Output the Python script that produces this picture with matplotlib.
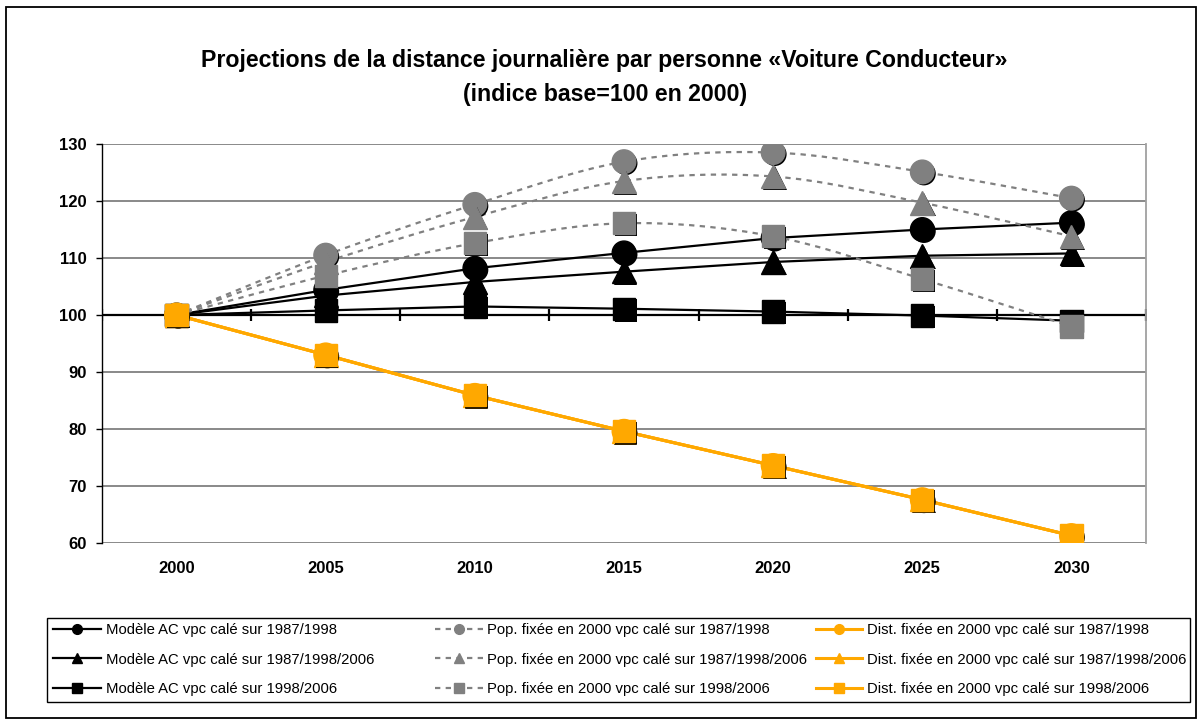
import matplotlib
matplotlib.use('Agg')
import matplotlib.pyplot as plt
import matplotlib.patheffects as pe
from matplotlib.path import Path
from matplotlib.patches import PathPatch, Rectangle
from matplotlib.lines import Line2D
import numpy as np

plt.rcParams['font.family'] = ['Liberation Sans', 'DejaVu Sans']

# Data
years = ['2000', '2005', '2010', '2015', '2020', '2025', '2030']

ac_8798 = [100, 104.4, 108.2, 110.9, 113.5, 115.0, 116.2]
ac_879806 = [100, 103.4, 105.8, 107.6, 109.3, 110.4, 110.8]
ac_9806 = [100, 100.8, 101.5, 101.1, 100.6, 99.9, 99.0]

pop_8798 = [100, 110.5, 119.4, 126.9, 128.5, 125.1, 120.5]
pop_879806 = [100, 109.3, 117.2, 123.5, 124.3, 119.7, 113.8]
pop_9806 = [100, 106.9, 112.6, 116.1, 113.8, 106.3, 98.0]

dist_8798 = [100, 93.0, 85.9, 79.6, 73.6, 67.6, 61.3]
dist_879806 = [100, 93.0, 85.9, 79.6, 73.6, 67.6, 61.3]
dist_9806 = [100, 93.0, 85.9, 79.6, 73.6, 67.6, 61.3]

labels_ac = ['Modèle AC vpc calé sur 1987/1998',
             'Modèle AC vpc calé sur 1987/1998/2006',
             'Modèle AC vpc calé sur 1998/2006']
labels_pop = ['Pop. fixée en 2000 vpc calé sur 1987/1998',
              'Pop. fixée en 2000 vpc calé sur 1987/1998/2006',
              'Pop. fixée en 2000 vpc calé sur 1998/2006']
labels_dist = ['Dist. fixée en 2000 vpc calé sur 1987/1998',
               'Dist. fixée en 2000 vpc calé sur 1987/1998/2006',
               'Dist. fixée en 2000 vpc calé sur 1998/2006']

markers = ['o', '^', 's']
BLACK = '#000000'
GREY = '#808080'
ORANGE = '#FFA800'

x = np.arange(len(years))

fig = plt.figure(figsize=(12.02, 7.25), dpi=100)
ax = fig.add_axes([102 / 1202, 1 - 543 / 725, 1044 / 1202, 399 / 725])

shadow = [pe.SimplePatchShadow(offset=(1.2, -1.2), shadow_rgbFace='black', alpha=1.0),
          pe.Normal()]


def smooth_path(xs, ys):
    # Excel-like smoothed line (cubic Bezier through every point)
    pts = np.column_stack([xs, ys]).astype(float)
    n = len(pts)
    verts = [pts[0]]
    codes = [Path.MOVETO]
    for i in range(n - 1):
        p0 = pts[i - 1] if i > 0 else pts[i]
        p1 = pts[i]
        p2 = pts[i + 1]
        p3 = pts[i + 2] if i + 2 < n else pts[i + 1]
        c1 = p1 + (p2 - p0) / 6.0
        c2 = p2 - (p3 - p1) / 6.0
        verts += [c1, c2, p2]
        codes += [Path.CURVE4] * 3
    return Path(verts, codes)


# gridlines
ax.set_ylim(60, 130)
ax.set_xlim(-0.5, len(years) - 0.5)
ax.set_yticks(np.arange(60, 131, 10))
ax.grid(axis='y', color=GREY, lw=1.3)
ax.set_axisbelow(True)

# category axis crossing at 100
ax.axhline(100, color='black', lw=1.6, zorder=2)
bounds = np.arange(len(years) + 1) - 0.5
ax.plot(bounds, np.full(len(bounds), 100), ls='none', marker='|',
        ms=9, mew=1.6, color='black', zorder=2)

# black series
for ys, m in zip([ac_8798, ac_879806, ac_9806], markers):
    ax.plot(x, ys, color=BLACK, lw=1.6, zorder=3)
for ys, m in zip([ac_8798, ac_879806, ac_9806], markers):
    ax.plot(x, ys, ls='none', marker=m, ms=17 if m != 's' else 16,
            color=BLACK, zorder=4, path_effects=shadow)

# grey dashed smoothed series
for ys, m in zip([pop_8798, pop_879806, pop_9806], markers):
    patch = PathPatch(smooth_path(x, ys), fill=False, edgecolor=GREY, lw=1.6,
                      linestyle=(0, (2.4, 2.4)), zorder=5)
    ax.add_patch(patch)
for ys, m in zip([pop_8798, pop_879806, pop_9806], markers):
    ax.plot(x, ys, ls='none', marker=m, ms=17 if m != 's' else 16,
            color=GREY, zorder=6, path_effects=shadow)

# orange series
for ys, m in zip([dist_8798, dist_879806, dist_9806], markers):
    ax.plot(x, ys, color=ORANGE, lw=2.2, zorder=7)
for ys, m in zip([dist_8798, dist_879806, dist_9806], markers):
    ax.plot(x, ys, ls='none', marker=m, ms=17 if m != 's' else 16,
            color=ORANGE, zorder=8, path_effects=shadow)

# axes styling
ax.set_xticks(x)
ax.set_xticklabels(years)
for sp in ['top', 'bottom']:
    ax.spines[sp].set_visible(False)
ax.spines['right'].set_color('#A0A0A0')
ax.spines['right'].set_linewidth(1.3)
ax.spines['left'].set_color('black')
ax.spines['left'].set_linewidth(1.0)
ax.tick_params(axis='x', length=0, pad=13, labelsize=12)
ax.tick_params(axis='y', length=4, width=1.0, pad=7, labelsize=12, direction='out')
for lab in ax.get_xticklabels() + ax.get_yticklabels():
    lab.set_fontweight('bold')

fig.text(0.503, 1 - 61 / 725,
         'Projections de la distance journalière par personne «Voiture Conducteur»',
         ha='center', va='center', fontsize=16.7, fontweight='bold')
fig.text(0.503, 1 - 94 / 725, '(indice base=100 en 2000)',
         ha='center', va='center', fontsize=16.7, fontweight='bold')

# legend, three columns placed like the original
def handles(color, ls, lw):
    return [Line2D([], [], color=color, ls=ls, lw=lw, marker=m, ms=7) for m in markers]

cols = [
    (handles(BLACK, '-', 1.6), labels_ac, 53, 3.25),
    (handles(GREY, (0, (2.4, 2.4)), 1.6), labels_pop, 435, 3.2),
    (handles(ORANGE, '-', 2.2), labels_dist, 816, 3.1),
]
for hs, labs, xpx, hl in cols:
    leg = fig.legend(hs, labs, loc='upper left',
                     bbox_to_anchor=(xpx / 1202, 1 - 623 / 725),
                     frameon=False, fontsize=10.7, handlelength=hl,
                     handletextpad=0.3, labelspacing=1.05,
                     borderpad=0, borderaxespad=0)

fig.add_artist(Rectangle((47 / 1202, 1 - 702 / 725), (1190 - 47) / 1202, 84 / 725,
                         transform=fig.transFigure, fill=False,
                         edgecolor='black', lw=1.0))
fig.add_artist(Rectangle((6 / 1202, 1 - 718 / 725), (1196 - 6) / 1202, 711 / 725,
                         transform=fig.transFigure, fill=False,
                         edgecolor='black', lw=1.3))

fig.savefig('out.png', dpi=100)
